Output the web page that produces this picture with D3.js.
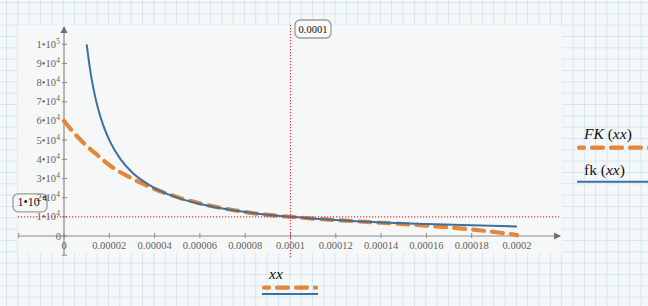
<!DOCTYPE html>
<html>
<head>
<meta charset="utf-8">
<script src="https://cdn.jsdelivr.net/npm/d3@7/dist/d3.min.js"></script>
<style>
body { margin: 0; background: #f5f8f8; }
svg { display: block; }
text { font-family: "Liberation Serif", serif; }
</style>
</head>
<body>
<svg></svg>
<script>
// fk(xx) - blue solid curve
var fkX = [0.00001, 0.000012, 0.000014, 0.000016, 0.000018, 0.00002, 0.000025, 0.00003, 0.000035, 0.00004,
           0.00005, 0.00006, 0.00007, 0.00008, 0.00009, 0.0001, 0.00012, 0.00014, 0.00016, 0.00018, 0.0002];
var fkY = [100000, 83300, 71400, 62500, 55600, 50000, 40000, 33300, 28600, 25000,
           20000, 16700, 14300, 12500, 11100, 10000, 8300, 7100, 6250, 5560, 5000];
// FK(xx) - orange dashed curve
var FKX = [0, 0.000005, 0.00001, 0.000015, 0.00002, 0.00003, 0.00004, 0.00005, 0.00006, 0.00007, 0.00008,
           0.00009, 0.0001, 0.00011, 0.00012, 0.00013, 0.00014, 0.00015, 0.00016, 0.00017, 0.00018, 0.00019, 0.0002];
var FKY = [60000, 53000, 47000, 42000, 37000, 30000, 24500, 20300, 17000, 14500, 12500,
           11000, 10000, 9100, 8300, 7600, 6900, 6200, 5400, 4500, 3400, 2100, 500];
// axis ticks
var xTicks = [0, 0.00002, 0.00004, 0.00006, 0.00008, 0.0001, 0.00012, 0.00014, 0.00016, 0.00018, 0.0002];
var xTickLabels = ["0", "0.00002", "0.00004", "0.00006", "0.00008", "0.0001", "0.00012", "0.00014", "0.00016", "0.00018", "0.0002"];
var yTicks = [0, 10000, 20000, 30000, 40000, 50000, 60000, 70000, 80000, 90000, 100000];
var yMant = ["0", "1", "2", "3", "4", "5", "6", "7", "8", "9", "1"];
var yExp = ["", "4", "4", "4", "4", "4", "4", "4", "4", "4", "5"];
// marker lines
var markX = 0.0001, markXLabel = "0.0001";
var markY = 10000, markYMant = "1", markYExp = "4";

var width = 648, height = 306;
var blue = "#3d6fa3", orange = "#e3883a", red = "#dd3b3b", axisCol = "#8a8a8a", labCol = "#626262";

var svg = d3.select('svg').attr('width', width).attr('height', height);

var x = d3.scaleLinear().domain([0, 0.0002]).range([64, 517]);
var y = d3.scaleLinear().domain([0, 100000]).range([236, 44.3]);

// graph paper
var step = 11.33;
svg.append("rect").attr("width", width).attr("height", height).attr("fill", "#f5f8f8");
svg.selectAll(".gv").data(d3.range(6.5, width, step)).enter().append("line")
    .attr("x1", d => d).attr("x2", d => d).attr("y1", 0).attr("y2", height)
    .attr("stroke", "#d6e6f4").attr("stroke-width", 1);
svg.selectAll(".gh").data(d3.range(2.5, height, step)).enter().append("line")
    .attr("y1", d => d).attr("y2", d => d).attr("x1", 0).attr("x2", width)
    .attr("stroke", "#d6e6f4").attr("stroke-width", 1);

// plot panel
svg.append("rect").attr("x", 18).attr("y", 25).attr("width", 544).attr("height", 228).attr("fill", "#f6f8f7");

// axes
var x0 = x(-0.00002), x1 = x(0.000219);
var y0 = y(-10000), y1 = y(109000);
svg.append("line").attr("x1", x0).attr("x2", x1).attr("y1", y(0)).attr("y2", y(0))
    .attr("stroke", axisCol).attr("stroke-width", 1.2);
svg.append("line").attr("x1", x(0)).attr("x2", x(0)).attr("y1", y0).attr("y2", y1)
    .attr("stroke", axisCol).attr("stroke-width", 1.2);
svg.append("path").attr("d", "M" + (x1 + 1) + "," + y(0) + "L" + (x1 - 6) + "," + (y(0) - 3.5) + "L" + (x1 - 6) + "," + (y(0) + 3.5) + "Z")
    .attr("fill", "#707070");
svg.append("path").attr("d", "M" + x(0) + "," + (y1 - 1) + "L" + (x(0) - 3.5) + "," + (y1 + 6) + "L" + (x(0) + 3.5) + "," + (y1 + 6) + "Z")
    .attr("fill", "#707070");

// tick marks
svg.selectAll(".xt").data(xTicks.concat([-0.00002])).enter().append("line")
    .attr("x1", d => x(d)).attr("x2", d => x(d)).attr("y1", y(0) - 3).attr("y2", y(0) + 2)
    .attr("stroke", axisCol);
svg.selectAll(".yt").data(yTicks.concat([-10000])).enter().append("line")
    .attr("y1", d => y(d)).attr("y2", d => y(d)).attr("x1", x(0) - 2).attr("x2", x(0) + 3)
    .attr("stroke", axisCol);

// tick labels
svg.selectAll(".xl").data(xTicks).enter().append("text")
    .attr("x", d => x(d)).attr("y", y(0) + 12.5)
    .attr("text-anchor", "middle").attr("font-size", 10.5).attr("fill", labCol)
    .text((d, i) => xTickLabels[i]);

var yl = svg.selectAll(".yl").data(yTicks).enter().append("text")
    .attr("x", (d, i) => yExp[i] ? 56 : 61).attr("y", d => y(d) + 3.5)
    .attr("text-anchor", "end").attr("font-size", 10.5).attr("fill", labCol);
yl.append("tspan").text((d, i) => yExp[i] ? yMant[i] + "\u2022" + "10" : yMant[i]);
svg.selectAll(".ye").data(yTicks.filter((d, i) => yExp[i])).enter().append("text")
    .attr("x", 56.3).attr("y", d => y(d) - 0.5)
    .attr("font-size", 7.5).attr("fill", labCol)
    .text(d => yExp[yTicks.indexOf(d)]);

// curves
var line = d3.line().x(d => x(d[0])).y(d => y(d[1])).curve(d3.curveMonotoneX);
svg.append("path").datum(FKX.map((v, i) => [v, FKY[i]])).attr("d", line)
    .attr("fill", "none").attr("stroke", orange).attr("stroke-width", 4.2)
    .attr("stroke-dasharray", "11,8").attr("stroke-linecap", "round");
svg.append("path").datum(fkX.map((v, i) => [v, fkY[i]])).attr("d", line)
    .attr("fill", "none").attr("stroke", blue).attr("stroke-width", 2);

// marker lines
svg.append("line").attr("x1", 18).attr("x2", 560).attr("y1", y(markY)).attr("y2", y(markY))
    .attr("stroke", red).attr("stroke-width", 1.2).attr("stroke-dasharray", "1.2,1.8");
svg.append("line").attr("x1", x(markX)).attr("x2", x(markX)).attr("y1", 25).attr("y2", 258)
    .attr("stroke", red).attr("stroke-width", 1.2).attr("stroke-dasharray", "1.2,1.8");

// marker callouts
svg.append("rect").attr("x", x(markX) + 4.5).attr("y", 20).attr("width", 36).attr("height", 18).attr("rx", 5)
    .attr("fill", "#f8f8f8").attr("stroke", "#9a9a9a").attr("stroke-width", 1.3);
svg.append("text").attr("x", x(markX) + 22.5).attr("y", 32.8).attr("text-anchor", "middle")
    .attr("font-size", 10.5).attr("fill", "#111").text(markXLabel);

svg.append("rect").attr("x", 13).attr("y", y(markY) - 23).attr("width", 34).attr("height", 18).attr("rx", 5)
    .attr("fill", "none").attr("stroke", "#9a9a9a").attr("stroke-width", 1.3);
svg.append("text").attr("x", 17.5).attr("y", y(markY) - 10.5).attr("font-size", 12).attr("fill", "#111")
    .text(markYMant + "\u2022" + "10");
svg.append("text").attr("x", 42.5).attr("y", y(markY) - 15.5).attr("font-size", 8.5).attr("fill", "#111")
    .text(markYExp);

// legend on the right
var lg = svg.append("g").attr("font-size", 15.5).attr("fill", "#111");
var t1 = lg.append("text").attr("x", 584).attr("y", 139);
t1.append("tspan").attr("font-style", "italic").text("FK");
t1.append("tspan").text(" (");
t1.append("tspan").attr("font-style", "italic").text("xx");
t1.append("tspan").text(")");
var t2 = lg.append("text").attr("x", 584).attr("y", 175);
t2.append("tspan").text("fk");
t2.append("tspan").text(" (");
t2.append("tspan").attr("font-style", "italic").text("xx");
t2.append("tspan").text(")");
svg.append("line").attr("x1", 579).attr("x2", 652).attr("y1", 147.7).attr("y2", 147.7)
    .attr("stroke", orange).attr("stroke-width", 4.2).attr("stroke-dasharray", "11,8")
    .attr("stroke-dashoffset", 6).attr("stroke-linecap", "round");
svg.append("line").attr("x1", 577).attr("x2", 648).attr("y1", 181.7).attr("y2", 181.7)
    .attr("stroke", blue).attr("stroke-width", 2);

// x variable label
svg.append("text").attr("x", 269).attr("y", 279).attr("font-size", 15.5).attr("font-style", "italic")
    .attr("fill", "#111").text("xx");
svg.append("line").attr("x1", 264).attr("x2", 316).attr("y1", 287.7).attr("y2", 287.7)
    .attr("stroke", orange).attr("stroke-width", 4.2).attr("stroke-dasharray", "11,8")
    .attr("stroke-dashoffset", 6).attr("stroke-linecap", "round");
svg.append("line").attr("x1", 262).attr("x2", 318).attr("y1", 294).attr("y2", 294)
    .attr("stroke", blue).attr("stroke-width", 2);
</script>
</body>
</html>
